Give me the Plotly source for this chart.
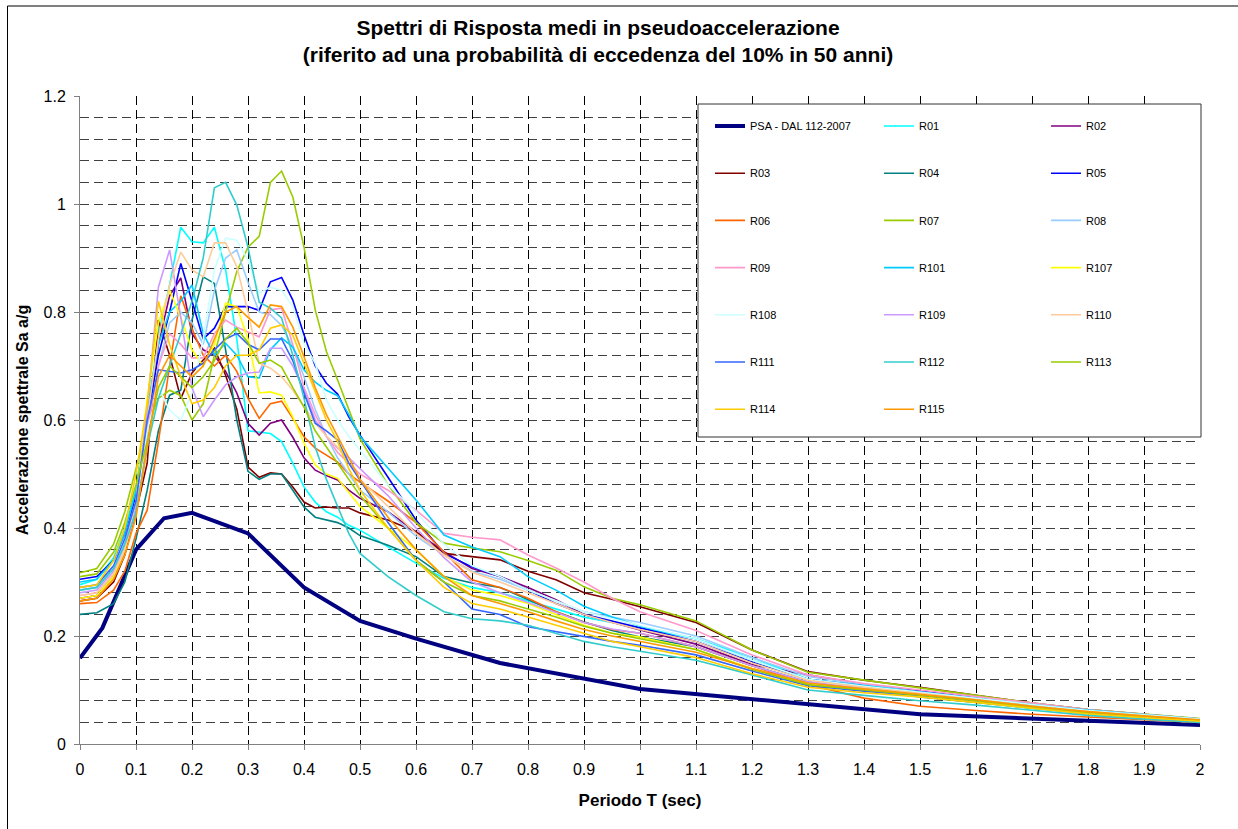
import plotly.graph_objects as go

# ---------------- data ----------------
T_PSA = [0.0, 0.04, 0.10, 0.15, 0.20, 0.30, 0.40, 0.50, 0.60, 0.75, 1.00, 1.50, 2.00]
PSA = [0.159, 0.215, 0.36, 0.418, 0.428, 0.39, 0.29, 0.228, 0.195, 0.15, 0.102, 0.055, 0.035]

T_R = [0.0, 0.03, 0.06, 0.08,
       0.10, 0.12, 0.14, 0.16, 0.18,
       0.20, 0.22, 0.24, 0.26, 0.28,
       0.30, 0.32, 0.34, 0.36, 0.38,
       0.40, 0.42, 0.44, 0.46, 0.48,
       0.50, 0.55, 0.60, 0.65, 0.70,
       0.75, 0.80, 0.85, 0.90, 0.95,
       1.00, 1.10, 1.20, 1.30, 1.40,
       1.50, 1.60, 1.70, 1.80, 1.90,
       2.00]

R01 = [0.295, 0.305, 0.345, 0.40,
       0.47, 0.60, 0.76, 0.85, 0.957,
       0.93, 0.928, 0.957, 0.878, 0.75,
       0.58, 0.578, 0.575, 0.56, 0.52,
       0.476, 0.448, 0.43, 0.42, 0.405,
       0.396, 0.365, 0.335, 0.307, 0.29,
       0.28, 0.265, 0.25, 0.235, 0.225,
       0.215, 0.195, 0.16, 0.12, 0.105,
       0.09, 0.078, 0.066, 0.058, 0.05,
       0.043]
R02 = [0.27, 0.275, 0.31, 0.36,
       0.44, 0.58, 0.74, 0.83, 0.863,
       0.76, 0.73, 0.72, 0.69, 0.65,
       0.594, 0.572, 0.594, 0.60, 0.568,
       0.53, 0.507, 0.497, 0.489, 0.47,
       0.455, 0.43, 0.393, 0.356, 0.325,
       0.31, 0.29, 0.267, 0.24, 0.225,
       0.211, 0.185, 0.147, 0.128, 0.11,
       0.097, 0.085, 0.072, 0.062, 0.054,
       0.046]
R03 = [0.265, 0.27, 0.30, 0.35,
       0.43, 0.52, 0.785, 0.72, 0.64,
       0.687, 0.711, 0.733, 0.683, 0.62,
       0.513, 0.494, 0.502, 0.50, 0.476,
       0.448, 0.437, 0.439, 0.437, 0.437,
       0.428, 0.415, 0.393, 0.353, 0.347,
       0.341, 0.32, 0.304, 0.28, 0.268,
       0.254, 0.225, 0.174, 0.134, 0.118,
       0.105, 0.09, 0.076, 0.064, 0.055,
       0.046]
R04 = [0.24, 0.243, 0.26, 0.30,
       0.38, 0.47, 0.58, 0.646, 0.655,
       0.785, 0.865, 0.853, 0.73, 0.60,
       0.505, 0.49, 0.50, 0.50, 0.47,
       0.439, 0.42, 0.415, 0.41, 0.40,
       0.386, 0.368, 0.347, 0.31, 0.298,
       0.29, 0.267, 0.245, 0.226, 0.21,
       0.198, 0.18, 0.145, 0.115, 0.10,
       0.087, 0.077, 0.066, 0.056, 0.049,
       0.042]
R05 = [0.305, 0.31, 0.34, 0.39,
       0.46, 0.60, 0.72, 0.80, 0.89,
       0.82, 0.75, 0.77, 0.81, 0.81,
       0.81, 0.803, 0.856, 0.864, 0.822,
       0.758, 0.70, 0.668, 0.648, 0.606,
       0.572, 0.494, 0.415, 0.353, 0.328,
       0.31, 0.285, 0.26, 0.24, 0.228,
       0.215, 0.19, 0.152, 0.12, 0.108,
       0.098, 0.085, 0.072, 0.062, 0.053,
       0.045]
R06 = [0.26, 0.262, 0.285, 0.32,
       0.39, 0.433, 0.56, 0.70, 0.83,
       0.77, 0.72, 0.70, 0.72, 0.69,
       0.64, 0.603, 0.63, 0.635, 0.603,
       0.569, 0.548, 0.535, 0.522, 0.50,
       0.485, 0.45, 0.41, 0.355, 0.304,
       0.29, 0.27, 0.245, 0.225, 0.212,
       0.205, 0.18, 0.145, 0.11, 0.085,
       0.07, 0.062, 0.055, 0.05, 0.045,
       0.04]
R07 = [0.317, 0.325, 0.37, 0.43,
       0.51, 0.59, 0.64, 0.655, 0.645,
       0.60, 0.63, 0.72, 0.80, 0.875,
       0.92, 0.94, 1.04, 1.061, 1.013,
       0.92, 0.804, 0.727, 0.674, 0.62,
       0.565, 0.48, 0.41, 0.372, 0.363,
       0.356, 0.34, 0.322, 0.291, 0.27,
       0.258, 0.228, 0.174, 0.133, 0.118,
       0.104, 0.09, 0.076, 0.064, 0.055,
       0.047]
R08 = [0.285, 0.29, 0.325, 0.37,
       0.44, 0.58, 0.70, 0.78, 0.80,
       0.78, 0.74, 0.84, 0.90, 0.915,
       0.855, 0.80, 0.795, 0.775, 0.735,
       0.68, 0.62, 0.57, 0.53, 0.50,
       0.47, 0.43, 0.385, 0.35, 0.32,
       0.305, 0.285, 0.265, 0.245, 0.235,
       0.225, 0.20, 0.16, 0.125, 0.11,
       0.096, 0.084, 0.072, 0.061, 0.053,
       0.045]
R09 = [0.275, 0.28, 0.315, 0.36,
       0.43, 0.58, 0.70, 0.76, 0.74,
       0.715, 0.715, 0.76, 0.785, 0.772,
       0.763, 0.754, 0.804, 0.807, 0.74,
       0.66, 0.61, 0.57, 0.54, 0.52,
       0.50, 0.47, 0.433, 0.39, 0.383,
       0.378, 0.35, 0.326, 0.30, 0.27,
       0.245, 0.21, 0.165, 0.128, 0.112,
       0.10, 0.088, 0.075, 0.064, 0.055,
       0.046]
R101 = [0.30, 0.305, 0.34, 0.39,
        0.47, 0.62, 0.74, 0.80, 0.82,
        0.85, 0.76, 0.72, 0.742, 0.72,
        0.68, 0.678, 0.73, 0.752, 0.735,
        0.693, 0.67, 0.655, 0.645, 0.61,
        0.57, 0.51, 0.452, 0.387, 0.365,
        0.347, 0.31, 0.285, 0.255, 0.235,
        0.218, 0.195, 0.155, 0.12, 0.108,
        0.097, 0.085, 0.073, 0.063, 0.054,
        0.046]
R107 = [0.27, 0.275, 0.31, 0.36,
        0.45, 0.64, 0.78, 0.84, 0.79,
        0.73, 0.70, 0.74, 0.816, 0.81,
        0.75, 0.65, 0.652, 0.646, 0.606,
        0.557, 0.517, 0.50, 0.492, 0.465,
        0.44, 0.40, 0.36, 0.31, 0.285,
        0.275, 0.26, 0.24, 0.22, 0.205,
        0.198, 0.175, 0.14, 0.11, 0.098,
        0.088, 0.077, 0.066, 0.056, 0.049,
        0.042]
R108 = [0.28, 0.285, 0.32, 0.37,
        0.44, 0.58, 0.66, 0.618, 0.60,
        0.65, 0.75, 0.878, 0.937, 0.933,
        0.896, 0.835, 0.846, 0.84, 0.81,
        0.742, 0.705, 0.637, 0.60, 0.57,
        0.544, 0.48, 0.43, 0.37, 0.33,
        0.31, 0.285, 0.265, 0.245, 0.232,
        0.22, 0.195, 0.155, 0.12, 0.107,
        0.096, 0.085, 0.073, 0.062, 0.054,
        0.046]
R109 = [0.28, 0.285, 0.32, 0.37,
        0.44, 0.62, 0.846, 0.915, 0.79,
        0.66, 0.606, 0.637, 0.665, 0.68,
        0.687, 0.689, 0.733, 0.733, 0.70,
        0.655, 0.60, 0.57, 0.548, 0.53,
        0.51, 0.46, 0.40, 0.345, 0.30,
        0.28, 0.262, 0.243, 0.225, 0.213,
        0.205, 0.18, 0.145, 0.115, 0.102,
        0.09, 0.08, 0.068, 0.058, 0.05,
        0.043]
R110 = [0.275, 0.28, 0.315, 0.36,
        0.45, 0.60, 0.75, 0.85, 0.911,
        0.878, 0.865, 0.928, 0.928, 0.884,
        0.80, 0.705, 0.696, 0.68, 0.655,
        0.625, 0.594, 0.57, 0.55, 0.52,
        0.49, 0.44, 0.39, 0.35, 0.318,
        0.30, 0.28, 0.26, 0.24, 0.225,
        0.212, 0.19, 0.15, 0.118, 0.105,
        0.094, 0.082, 0.07, 0.06, 0.052,
        0.044]
R111 = [0.29, 0.295, 0.33, 0.38,
        0.45, 0.60, 0.693, 0.69, 0.687,
        0.693, 0.705, 0.73, 0.75, 0.76,
        0.74, 0.73, 0.75, 0.75, 0.71,
        0.65, 0.594, 0.58, 0.563, 0.52,
        0.489, 0.41, 0.34, 0.30, 0.25,
        0.24, 0.217, 0.208, 0.20, 0.19,
        0.183, 0.165, 0.135, 0.108, 0.098,
        0.09, 0.08, 0.068, 0.058, 0.05,
        0.043]
R112 = [0.285, 0.29, 0.325, 0.37,
        0.43, 0.55, 0.64, 0.70, 0.76,
        0.82, 0.90, 1.03, 1.04, 0.998,
        0.92, 0.818, 0.807, 0.789, 0.72,
        0.64, 0.55, 0.49, 0.44, 0.39,
        0.353, 0.31, 0.275, 0.245, 0.232,
        0.228, 0.22, 0.205, 0.19, 0.18,
        0.172, 0.155, 0.128, 0.10, 0.09,
        0.08, 0.072, 0.062, 0.053, 0.046,
        0.04]
R113 = [0.31, 0.315, 0.355, 0.41,
        0.48, 0.56, 0.66, 0.70, 0.68,
        0.66, 0.68, 0.71, 0.75, 0.77,
        0.743, 0.705, 0.711, 0.698, 0.66,
        0.624, 0.58, 0.55, 0.52, 0.49,
        0.46, 0.40, 0.34, 0.30, 0.275,
        0.265, 0.25, 0.235, 0.218, 0.205,
        0.195, 0.175, 0.138, 0.11, 0.10,
        0.09, 0.08, 0.068, 0.058, 0.05,
        0.043]
R114 = [0.29, 0.295, 0.34, 0.40,
        0.50, 0.63, 0.82, 0.74, 0.68,
        0.63, 0.637, 0.66, 0.70, 0.72,
        0.72, 0.73, 0.77, 0.776, 0.757,
        0.705, 0.655, 0.60, 0.56, 0.51,
        0.47, 0.40, 0.34, 0.29, 0.26,
        0.25, 0.235, 0.22, 0.205, 0.19,
        0.18, 0.16, 0.13, 0.105, 0.095,
        0.087, 0.077, 0.066, 0.056, 0.049,
        0.042]
R115 = [0.265, 0.27, 0.305, 0.35,
        0.42, 0.55, 0.68, 0.72, 0.70,
        0.68, 0.70, 0.75, 0.80, 0.81,
        0.79, 0.772, 0.813, 0.81, 0.772,
        0.717, 0.66, 0.61, 0.57, 0.53,
        0.49, 0.42, 0.36, 0.31, 0.275,
        0.26, 0.245, 0.228, 0.212, 0.20,
        0.19, 0.17, 0.14, 0.113, 0.102,
        0.092, 0.082, 0.07, 0.06, 0.052,
        0.045]

SERIES_NAMES = ["R01", "R02", "R03", "R04", "R05", "R06", "R07", "R08", "R09",
                "R101", "R107", "R108", "R109", "R110", "R111", "R112", "R113",
                "R114", "R115"]
SERIES_VALUES = [R01, R02, R03, R04, R05, R06, R07, R08, R09,
                 R101, R107, R108, R109, R110, R111, R112, R113, R114, R115]
SERIES_COLORS = ["#00FFFF", "#800080", "#800000", "#008080", "#0000FF", "#FF6600",
                 "#99CC00", "#99CCFF", "#FF99CC", "#00CCFF", "#FFFF00", "#CCFFFF",
                 "#CC99FF", "#FFCC99", "#3366FF", "#33CCCC", "#99CC00", "#FFCC00",
                 "#FF9900"]

TITLE_1 = "Spettri di Risposta medi in pseudoaccelerazione"
TITLE_2 = "(riferito ad una probabilità di eccedenza del 10% in 50 anni)"
X_TITLE = "Periodo T (sec)"
Y_TITLE = "Accelerazione spettrale Sa a/g"
PSA_NAME = "PSA - DAL 112-2007"

for v in SERIES_VALUES:
    assert len(v) == len(T_R), len(v)

# ---------------- layout geometry (pixels) ----------------
W, H = 1238, 829
PL, PR, PT, PB = 80, 1200, 96, 744   # plot area
PW, PH = PR - PL, PB - PT
FONT = "Liberation Sans, Arial, sans-serif"


def px_x(p):
    return (p - PL) / PW


def px_y(p):
    return (PB - p) / PH


legend_ids = ["legend", "legend2", "legend3"]

fig = go.Figure()

fig.add_trace(go.Scatter(
    x=T_PSA, y=PSA, mode="lines", name=PSA_NAME,
    line=dict(color="#000080", width=4),
    legend=legend_ids[0], legendgroup=PSA_NAME,
))
for i, (nm, vals, col) in enumerate(zip(SERIES_NAMES, SERIES_VALUES, SERIES_COLORS), start=1):
    fig.add_trace(go.Scatter(
        x=T_R, y=vals, mode="lines", name=nm,
        line=dict(color=col, width=1.6),
        legend=legend_ids[i % 3], legendgroup=nm,
    ))

legend_left = [710, 879, 1046]
legend_top = 111.5
leg_common = dict(
    xref="paper", yref="paper", xanchor="left", yanchor="top",
    bgcolor="rgba(0,0,0,0)", borderwidth=0, tracegroupgap=28.2,
    font=dict(family=FONT, size=11, color="#000000"),
    itemwidth=30, orientation="v",
)

fig.update_layout(
    width=W, height=H,
    margin=dict(l=PL, r=W - PR, t=PT, b=H - PB, pad=0, autoexpand=False),
    paper_bgcolor="white", plot_bgcolor="white",
    font=dict(family=FONT, color="#000000"),
    showlegend=True,
    title=dict(
        text="<b>" + TITLE_1 + "</b><br><b>" + TITLE_2 + "</b>",
        font=dict(family=FONT, size=21, color="#000000"),
        xref="container", yref="container",
        x=598 / W, xanchor="center",
        y=1 - 35 / H, yanchor="top",
    ),
    legend=dict(x=px_x(legend_left[0]), y=px_y(legend_top), **leg_common),
    legend2=dict(x=px_x(legend_left[1]), y=px_y(legend_top), **leg_common),
    legend3=dict(x=px_x(legend_left[2]), y=px_y(legend_top), **leg_common),
    xaxis=dict(
        range=[0, 2], dtick=0.1, tick0=0,
        showline=True, linecolor="#808080", linewidth=1,
        ticks="outside", ticklen=5, tickcolor="#808080",
        tickfont=dict(family=FONT, size=16, color="#000000"),
        ticklabelstandoff=6,
        showgrid=True, gridcolor="#000000", gridwidth=1, griddash="9px,5px",
        zeroline=False,
        title=dict(text="<b>" + X_TITLE + "</b>",
                   font=dict(family=FONT, size=17, color="#000000"), standoff=16),
    ),
    yaxis=dict(
        range=[0, 1.2], dtick=0.2, tick0=0,
        showline=True, linecolor="#808080", linewidth=1,
        ticks="outside", ticklen=5, tickcolor="#808080",
        tickfont=dict(family=FONT, size=16, color="#000000"),
        ticklabelstandoff=5,
        showgrid=True, gridcolor="#404040", gridwidth=1, griddash="9px,5px",
        minor=dict(dtick=0.04, tick0=0, showgrid=True, gridcolor="#404040",
                   gridwidth=1, griddash="9px,5px", ticks=""),
        zeroline=False,
        title=dict(text="<b>" + Y_TITLE + "</b>",
                   font=dict(family=FONT, size=16, color="#000000"), standoff=10),
    ),
    shapes=[
        # chart frame
        dict(type="rect", xref="paper", yref="paper",
             x0=px_x(7.5), x1=px_x(1260), y0=px_y(850), y1=px_y(6),
             line=dict(color="#000000", width=1), fillcolor="rgba(0,0,0,0)", layer="below"),
        # legend box
        dict(type="rect", xref="paper", yref="paper",
             x0=px_x(698), x1=px_x(1201), y0=px_y(437), y1=px_y(104),
             line=dict(color="#333333", width=1), fillcolor="white", layer="above"),
    ],
)

fig.write_html("out.html")
